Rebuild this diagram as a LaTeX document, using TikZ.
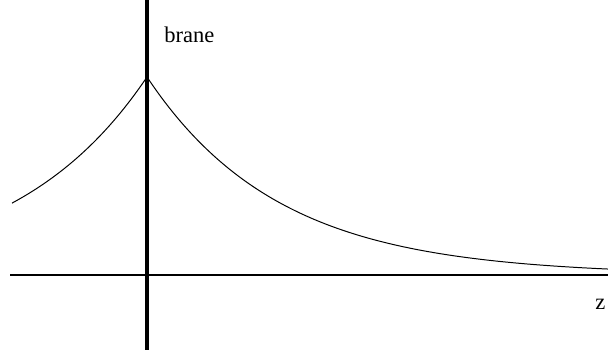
\documentclass[tikz,border=0pt]{standalone}
\usepackage{fontspec}
\setmainfont{Liberation Serif}
\usepackage{tikz}
\usetikzlibrary{positioning}

\begin{document}
\begin{tikzpicture}[
        x=0.025cm, y=-0.025cm,
        axis/.style={line width=0.8pt},
        wall/.style={line width=2.2pt},
        warp/.style={line width=0.7pt},
        lbl/.style={font=\fontsize{16}{18}\selectfont, inner sep=0pt}
      ]
        \useasboundingbox (0,0) rectangle (608,353);
        \coordinate (top) at (147,0);
        \coordinate (bot) at (147,350);
        \coordinate (left) at (10,275);
        \coordinate (right) at (608,275);
        \draw[axis] (left) -- (right);
        \draw[wall] (top) -- (bot);
        \draw[warp] plot[domain=12:147, samples=80, smooth]
          ({\x}, {275-198*exp(-0.0075*(147-\x))});
        \draw[warp] plot[domain=147:608, samples=120, smooth]
          ({\x}, {275-198*exp(-0.0076*(\x-147))});
        \node[lbl, anchor=base west] (brane) at (164,43) {brane};
        \node[lbl, anchor=base west] (z) at (595,310) {z};
      \end{tikzpicture}
\end{document}
